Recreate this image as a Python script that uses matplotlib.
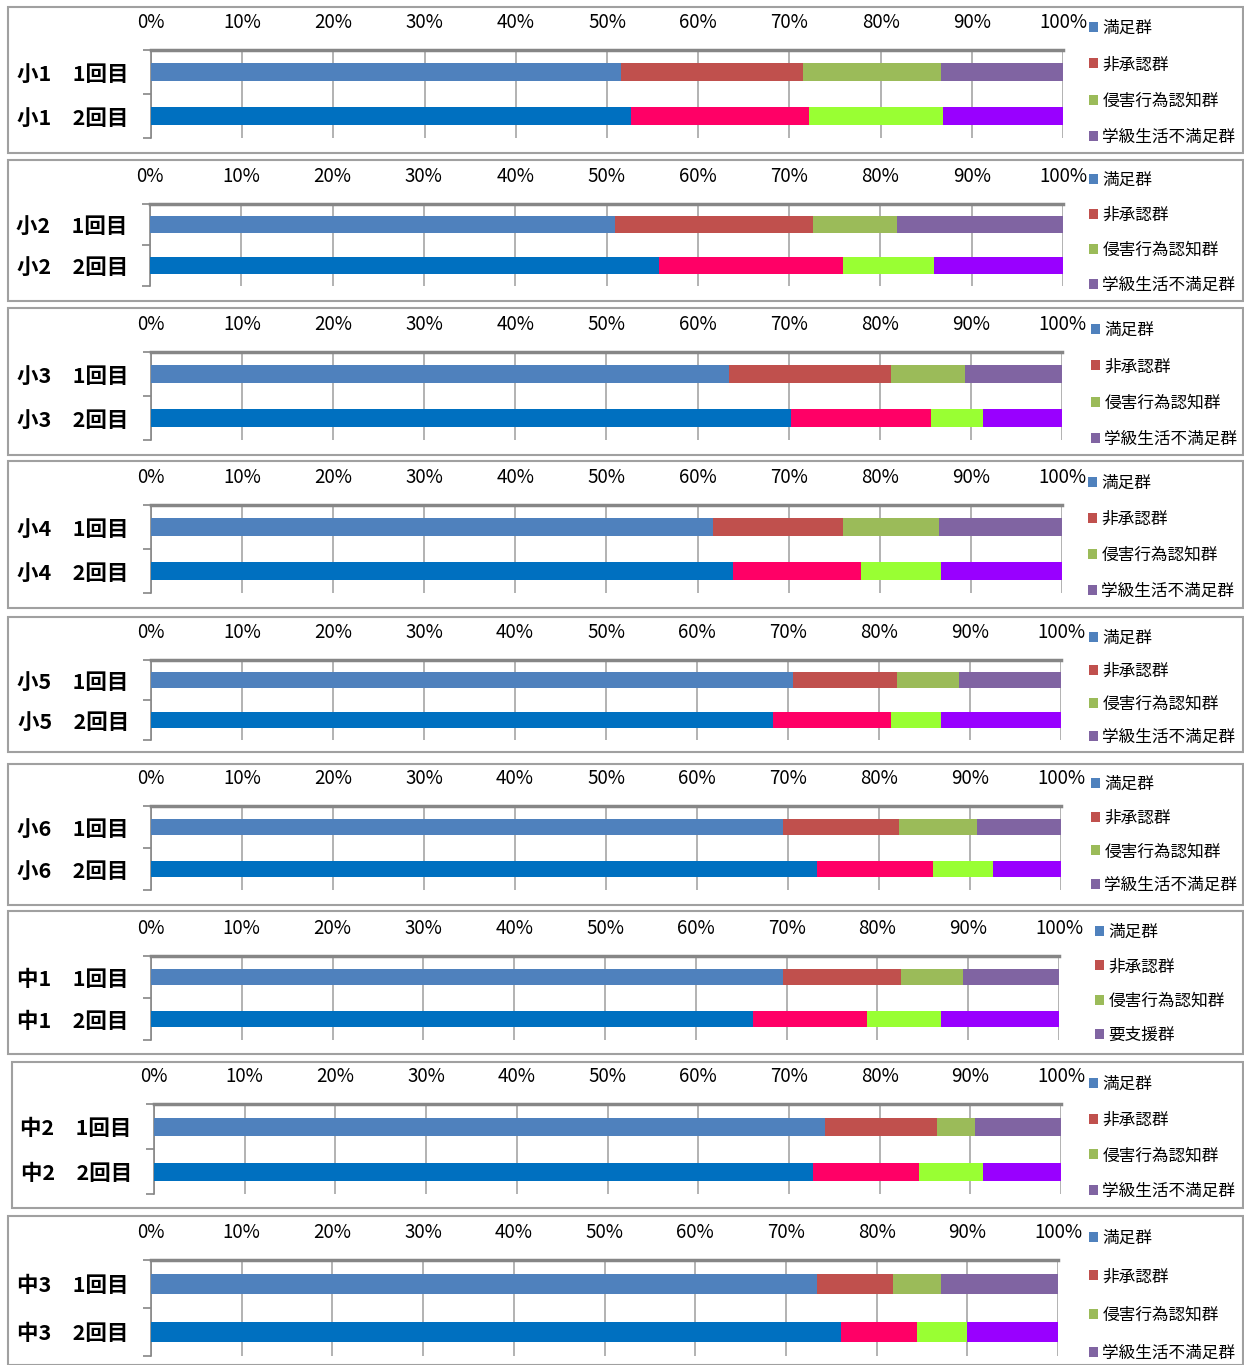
import matplotlib
matplotlib.use('Agg')
import matplotlib.pyplot as plt
from matplotlib.patches import Rectangle
import numpy as np

plt.rcParams['font.family'] = ['Noto Sans CJK JP', 'DejaVu Sans']

# ---------------- data ----------------
grades = ['小1', '小2', '小3', '小4', '小5', '小6', '中1', '中2', '中3']
rounds = ['1回目', '2回目']
series_labels = ['満足群', '非承認群', '侵害行為認知群', '学級生活不満足群']
alt_last_label = {'中1': '要支援群'}

# 1回目 (%)
sat_r1      = [51.5, 50.9, 63.4, 61.7, 70.5, 69.5, 69.6, 74.0, 73.4]
nonrec_r1   = [20.0, 21.7, 17.8, 14.3, 11.5, 12.7, 13.0, 12.3, 8.4]
infr_r1     = [15.1, 9.2, 8.2, 10.5, 6.8, 8.6, 6.8, 4.2, 5.3]
dissat_r1   = [13.4, 18.2, 10.6, 13.5, 11.2, 9.2, 10.6, 9.5, 12.9]
# 2回目 (%)
sat_r2      = [52.6, 55.7, 70.3, 63.9, 68.4, 73.2, 66.3, 72.7, 76.1]
nonrec_r2   = [19.5, 20.2, 15.3, 14.0, 12.9, 12.7, 12.6, 11.6, 8.4]
infr_r2     = [14.7, 10.0, 5.7, 8.8, 5.5, 6.6, 8.1, 7.1, 5.5]
dissat_r2   = [13.2, 14.1, 8.7, 13.3, 13.2, 7.5, 13.0, 8.6, 10.0]

xticks = list(range(0, 101, 10))
xtick_labels = [f'{v}%' for v in xticks]

# ---------------- style ----------------
colors_r1 = ['#4F81BD', '#C0504D', '#9BBB59', '#8064A2']
colors_r2 = ['#0070C0', '#FF0066', '#99FF33', '#9900FF']

W, H = 1244, 1365
# per-panel layout in pixels:
# box_x, box_top, box_bottom, ax_top, ax_bottom, x0, x100, legend_x, legend_first_row, legend_last_row
layout = [
    (8, 7, 153, 50, 138, 151, 1063, 1089, 26, 134),
    (8, 160, 301, 204, 286, 150, 1063, 1089, 178, 282),
    (8, 308, 455, 352, 440, 151, 1062, 1091, 328, 436),
    (8, 461, 608, 505, 593, 151, 1062, 1088, 481, 588),
    (8, 617, 752, 660, 740, 151, 1061, 1089, 636, 734),
    (8, 764, 905, 806, 890, 151, 1061, 1091, 782, 882),
    (8, 911, 1054, 956, 1040, 151, 1059, 1095, 930, 1032),
    (12, 1062, 1208, 1104, 1194, 154, 1061, 1089, 1082, 1188),
    (8, 1216, 1365, 1260, 1356, 151, 1058, 1089, 1236, 1350),
]

fig = plt.figure(figsize=(W / 100, H / 100), dpi=100)

r1 = np.array([sat_r1, nonrec_r1, infr_r1, dissat_r1])
r2 = np.array([sat_r2, nonrec_r2, infr_r2, dissat_r2])

legend_fs = 12
legend_fs_px = legend_fs / 72 * 100
text_h_px = 1.0 * legend_fs_px

for gi, g in enumerate(grades):
    bx, btop, bbot, atop, abot, x0, x1, lx, ltop, lbot = layout[gi]
    fig.add_artist(Rectangle((bx / W, 1 - bbot / H), (W - 1 - bx) / W, (bbot - btop) / H,
                             transform=fig.transFigure, fill=False,
                             ec='#A0A0A0', lw=1.5))
    ax = fig.add_axes([x0 / W, 1 - abot / H, (x1 - x0) / W, (abot - atop) / H])
    handles = []
    for ri, (vals, cols) in enumerate(((r1[:, gi], colors_r1), (r2[:, gi], colors_r2))):
        left = 0.0
        for si in range(4):
            b = ax.barh(ri, vals[si], left=left, height=0.4, color=cols[si], zorder=3)
            if ri == 0:
                handles.append(b)
            left += vals[si]
    ax.set_xlim(0, 100)
    ax.set_ylim(1.5, -0.5)
    ax.xaxis.tick_top()
    ax.set_xticks(xticks)
    ax.set_xticklabels(xtick_labels, fontsize=13.5)
    ax.tick_params(axis='x', length=0, pad=12)
    ax.set_yticks([0, 1])
    ax.set_yticklabels([f'{g}\u30001回目', f'{g}\u30002回目'],
                       fontsize=15.5, fontweight='bold')
    ax.tick_params(axis='y', which='major', length=0, pad=16)
    ax.set_yticks([-0.5, 0.5, 1.5], minor=True)
    ax.tick_params(axis='y', which='minor', length=6, color='#868686', width=1.2)
    ax.grid(axis='x', color='#A6A6A6', lw=1.2, zorder=0)
    ax.set_axisbelow(True)
    for s in ('right', 'bottom'):
        ax.spines[s].set_visible(False)
    ax.spines['top'].set_color('#868686')
    ax.spines['top'].set_linewidth(2.5)
    ax.spines['left'].set_color('#868686')
    ax.spines['left'].set_linewidth(1.2)

    labels = list(series_labels)
    if g in alt_last_label:
        labels[3] = alt_last_label[g]
    step = (lbot - ltop) / 3
    spacing = (step - text_h_px) / legend_fs_px
    ax.legend(handles, labels, loc='upper left',
              bbox_to_anchor=(lx / W, 1 - (ltop - 6) / H),
              bbox_transform=fig.transFigure, frameon=False,
              handlelength=0.55, handleheight=0.55, handletextpad=0.25,
              borderaxespad=0, borderpad=0, fontsize=legend_fs,
              labelspacing=spacing)

fig.savefig('out.png', dpi=100)
